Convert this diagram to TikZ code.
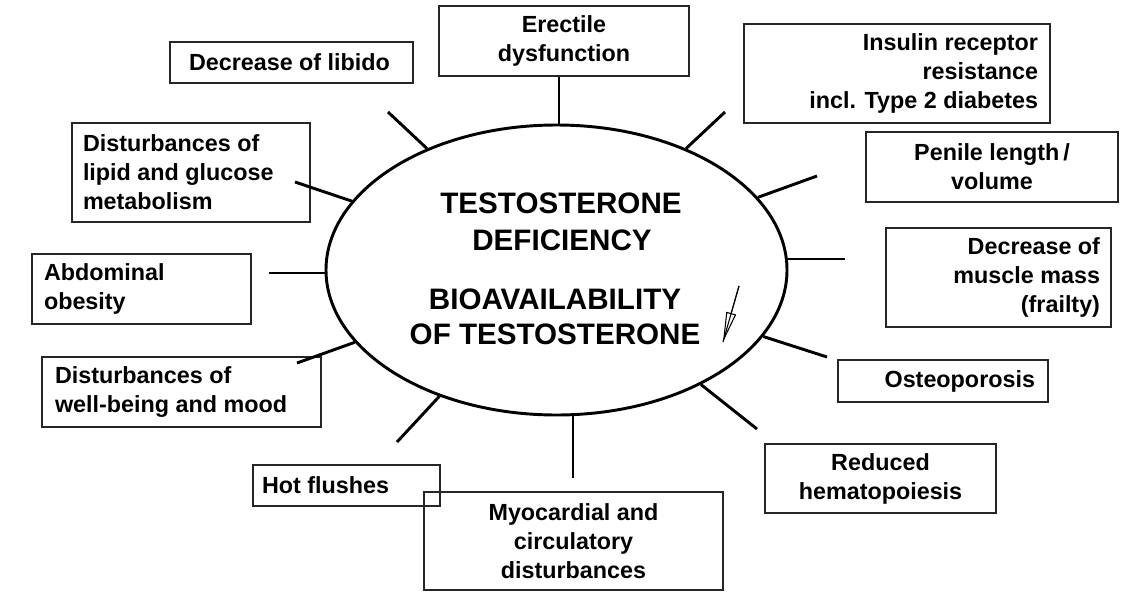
\documentclass[tikz,border=0pt]{standalone}
\usepackage{fontspec}
\setmainfont{Liberation Sans}
\usetikzlibrary{shapes.geometric,arrows.meta}
\tikzset{
  box/.style={draw=black!85, line width=1.1pt, inner sep=0pt, outer sep=0pt, align=center,
    font=\bfseries\fontsize{17.5pt}{21.75pt}\selectfont},
  txt/.style={inner sep=0pt, outer sep=0pt,
    font=\bfseries\fontsize{17.5pt}{21.75pt}\selectfont},
  ttl/.style={inner sep=0pt, outer sep=0pt, anchor=base,
    font=\bfseries\fontsize{22.2pt}{27pt}\selectfont},
  spoke/.style={line width=2.2pt},
}
\begin{document}
\begin{tikzpicture}[x=0.75pt,y=-0.75pt]
\useasboundingbox[fill=white] (0,0) rectangle (1145,596);

% central ellipse
\node[draw, line width=2.2pt, ellipse, inner sep=0pt, minimum width=345.75pt, minimum height=217.5pt] (ell) at (556.5,270) {};

\node[ttl] (t1) at (561,213) {TESTOSTERONE};
\node[ttl] (t2) at (562,250) {DEFICIENCY};
\node[ttl] (t3) at (555,309) {BIOAVAILABILITY};
\node[ttl] (t4) at (555,344) {OF TESTOSTERONE};

% arrow
\coordinate (arrA) at (739,286);
\coordinate (arrB) at (723,342);
\draw[line width=0.8pt] (arrA) -- (arrB);
\draw[line width=0.8pt, -{Triangle[open, length=22.5pt, width=7.5pt]}] (arrA) -- (arrB);

% boxes
\node[box, minimum width=182.25pt, minimum height=30.75pt] (libido) at (291.5,62.5) {};
\node[txt, anchor=west] (libidoT) at (189,62.5) {Decrease of libido};

\node[box, minimum width=187.5pt, minimum height=52.5pt] (erectile) at (564,41) {Erectile\\dysfunction};

\node[box, minimum width=229.5pt, minimum height=74.25pt] (insulin) at (897,73.5) {};
\node[txt, anchor=east, align=right] (insulinT) at (1038,73.5) {Insulin receptor\\resistance\\incl. Type 2 diabetes};

\node[box, minimum width=178.5pt, minimum height=74.25pt] (lipid) at (191,172.5) {};
\node[txt, anchor=west, align=left] (lipidT) at (83,172.5) {Disturbances of\\lipid and glucose\\metabolism};

\node[box, minimum width=189pt, minimum height=52.5pt] (penile) at (992,167) {Penile length\,/\\volume};

\node[box, minimum width=168.75pt, minimum height=74.25pt] (muscle) at (998.5,277.5) {};
\node[txt, anchor=east, align=right] (muscleT) at (1100,277.5) {Decrease of\\muscle mass\\(frailty)};

\node[box, minimum width=164.25pt, minimum height=52.5pt] (abdominal) at (141.5,289) {};
\node[txt, anchor=west, align=left] (abdominalT) at (44,289) {Abdominal\\obesity};

\node[box, minimum width=209.25pt, minimum height=52.5pt] (wellbeing) at (181.5,392) {};
\node[txt, anchor=west, align=left] (wellbeingT) at (55,392) {Disturbances of\\well-being and mood};

\node[box, minimum width=157.5pt, minimum height=31.5pt] (osteo) at (943,381) {};
\node[txt, anchor=east] (osteoT) at (1035,381) {Osteoporosis};

\node[box, minimum width=173.25pt, minimum height=51.75pt] (reduced) at (880.5,478.5) {Reduced\\hematopoiesis};

\node[box, minimum width=140.25pt, minimum height=30.75pt] (hot) at (346.5,485.5) {};
\node[txt, anchor=west] (hotT) at (262,485.5) {Hot flushes};

\node[box, minimum width=224.25pt, minimum height=73.5pt] (myo) at (573.5,541) {Myocardial and\\circulatory\\disturbances};

% spokes (outer free ends)
\coordinate (eErectile) at (559,77);
\coordinate (eLibido) at (388,112);
\coordinate (eInsulin) at (725,112);
\coordinate (eLipid) at (295,182);
\coordinate (ePenile) at (817,176);
\coordinate (eMuscle) at (845,259);
\coordinate (eAbdominal) at (269,273);
\coordinate (eWellbeing) at (297,363);
\coordinate (eOsteo) at (827,357);
\coordinate (eReduced) at (757,429);
\coordinate (eHot) at (397,442);
\coordinate (eMyo) at (573,478);

\coordinate (sErectile) at (559,125);
\coordinate (sMuscle) at (787,259);
\coordinate (sAbdominal) at (326,273);
\coordinate (sMyo) at (573,414);

\draw[spoke] (sErectile) -- (eErectile);
\draw[spoke] (ell) -- (eLibido);
\draw[spoke] (ell) -- (eInsulin);
\draw[spoke] (ell) -- (eLipid);
\draw[spoke] (ell) -- (ePenile);
\draw[spoke] (sMuscle) -- (eMuscle);
\draw[spoke] (sAbdominal) -- (eAbdominal);
\draw[spoke] (ell) -- (eWellbeing);
\draw[spoke] (ell) -- (eOsteo);
\draw[spoke] (ell) -- (eReduced);
\draw[spoke] (ell) -- (eHot);
\draw[spoke] (sMyo) -- (eMyo);
\end{tikzpicture}
\end{document}
